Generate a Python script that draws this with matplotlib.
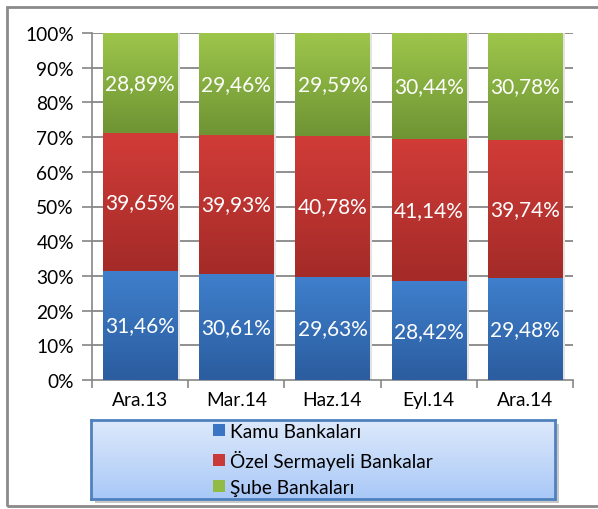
import numpy as np
import matplotlib
matplotlib.use("Agg")
import matplotlib.pyplot as plt
from matplotlib.patches import Rectangle, Patch
from matplotlib.ticker import FixedLocator

plt.rcParams['font.family'] = ['Lato', 'DejaVu Sans']
plt.rcParams['image.composite_image'] = False

periods = ['Ara.13', 'Mar.14', 'Haz.14', 'Eyl.14', 'Ara.14']
kamu = [31.46, 30.61, 29.63, 28.42, 29.48]
ozel = [39.65, 39.93, 40.78, 41.14, 39.74]
sube = [28.89, 29.46, 29.59, 30.44, 30.78]
series_names = ['Kamu Bankaları', 'Özel Sermayeli Bankalar', 'Şube Bankaları']
yticks = np.arange(0, 101, 10)

# (top colour, bottom colour) of each series gradient
grads = [('#3f7fcc', '#2b5d9f'), ('#d13c38', '#a42b28'), ('#9dc64b', '#6e9434')]
flat = ['#3a75c4', '#c9393a', '#92bb46']

fig = plt.figure(figsize=(5.98, 5.10), dpi=100)
ax = fig.add_axes([92/598, 1-381/510, (573-92)/598, (381-34)/510])

for t in yticks[1:]:
    ax.axhline(t, color='#878787', lw=1.3, zorder=1)

x = np.arange(len(periods))
bottom = np.zeros(len(periods))
for vals, (ctop, cbot), name in zip([kamu, ozel, sube], grads, series_names):
    bars = ax.bar(x, vals, 0.77, bottom=bottom, color='none', zorder=3)
    cmap = matplotlib.colors.LinearSegmentedColormap.from_list('g', [cbot, ctop])
    for b, v in zip(bars, vals):
        x0, y0, w, h = b.get_x(), b.get_y(), b.get_width(), b.get_height()
        # soft shadow on the right
        ax.add_patch(Rectangle((x0 + w, y0), 0.03, h, color='#e3e3e3', zorder=2, lw=0))
        ax.imshow(np.linspace(0, 1, 64).reshape(-1, 1), cmap=cmap, origin='lower',
                  extent=(x0, x0 + w, y0, y0 + h), aspect='auto', zorder=3)
        ax.text(x0 + w/2, y0 + h/2, f'{v:.2f}%'.replace('.', ','), ha='center',
                va='center', color='white', fontsize=15, zorder=5)
    bottom += np.array(vals)

ax.set_xlim(-0.5, len(periods) - 0.5)
ax.set_ylim(0, 100)
ax.set_yticks(yticks)
ax.set_yticklabels([f'{t}%' for t in yticks], fontsize=13.8)
ax.set_xticks(x)
ax.set_xticklabels(periods, fontsize=13.8)
ax.xaxis.set_minor_locator(FixedLocator(np.arange(-0.5, len(periods), 1)))
ax.tick_params(axis='x', which='major', length=0, pad=8)
ax.tick_params(axis='x', which='minor', length=6, color='#868686', width=1.2)
ax.tick_params(axis='y', length=7, color='#868686', width=1.2, pad=6)
for s in ['top', 'right']:
    ax.spines[s].set_visible(False)
for s in ['left', 'bottom']:
    ax.spines[s].set_color('#868686')
    ax.spines[s].set_linewidth(1.2)

# outer frame
fig.patches.append(Rectangle((7/598, 1-507/510), 600/598, 499/510, transform=fig.transFigure,
                             fill=False, ec='#8a8a8a', lw=2, zorder=0))

# legend box with shadow and gradient
lx0, ly0, lx1, ly1 = 91, 421, 555, 500
fig.patches.append(Rectangle(((lx0+4)/598, 1-(ly1+4)/510), (lx1-lx0)/598, (ly1-ly0)/510,
                             transform=fig.transFigure, color='#c8c8c8', lw=0, zorder=-1))
lax = fig.add_axes([lx0/598, 1-ly1/510, (lx1-lx0)/598, (ly1-ly0)/510])
lax.set_zorder(3)
lcmap = matplotlib.colors.LinearSegmentedColormap.from_list('l', ['#a9c8f7', '#dde9fb'])
lax.imshow(np.linspace(0, 1, 64).reshape(-1, 1), cmap=lcmap, origin='lower',
           extent=(0, 1, 0, 1), aspect='auto')
lax.set_xticks([])
lax.set_yticks([])
for s in lax.spines.values():
    s.set_color('#4f81bd')
    s.set_linewidth(2)
handles = [Patch(facecolor=c, edgecolor='none') for c in flat]
lax.legend(handles, series_names, loc='center', frameon=False, fontsize=13.8,
           handlelength=0.6, handleheight=0.6, handletextpad=0.3, labelspacing=0.5,
           borderpad=0)

fig.savefig('out.png', dpi=100)
